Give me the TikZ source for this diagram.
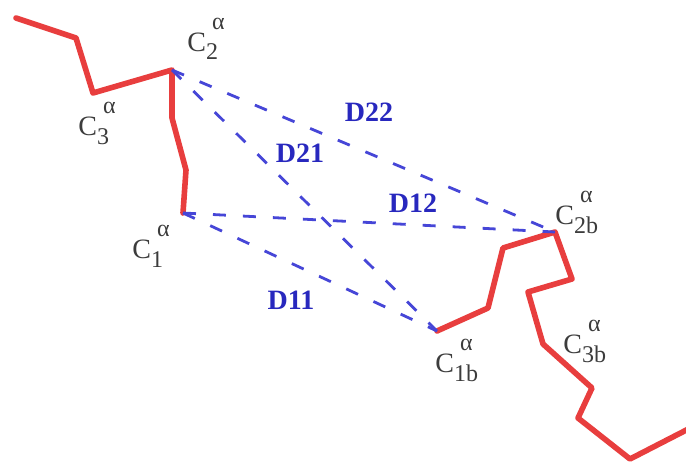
\documentclass[tikz,border=0pt]{standalone}
\usepackage{fontspec}
\setmainfont{Liberation Serif}
\usepackage{xcolor}
\usepackage{tikz}
\usetikzlibrary{positioning}
\definecolor{caRed}{RGB}{232,62,62}
\definecolor{caGray}{RGB}{60,60,60}
\definecolor{dBlue}{RGB}{70,70,215}
\definecolor{dText}{RGB}{40,40,190}
\newcommand{\calab}[1]{C\rlap{\raisebox{-4.5pt}{\fontsize{12}{12}\selectfont #1}}\raisebox{11pt}{\fontsize{12}{12}\selectfont\hspace{3pt}α}}

\begin{document}
\begin{tikzpicture}[
  x=0.5pt, y=-0.5pt,
  font=\fontsize{14}{14}\selectfont,
  chain/.style={draw=caRed, line width=2.8pt, line join=round, line cap=round},
  dd/.style={draw=dBlue, line width=1.4pt, dash pattern=on 6.5pt off 8.5pt},
  lb/.style={text=caGray, anchor=base west, inner sep=0pt},
  dl/.style={text=dText, font=\bfseries\fontsize{14}{14}\selectfont, inner sep=0pt}
]
\useasboundingbox (0,0) rectangle (686,466);
% chain a
\foreach \n/\x/\y in {a0/16/18, a1/76/38, c3/93/93, c2/172/70, a2/172/118, a3/186/170, c1/183/213}
  \coordinate (\n) at (\x,\y);
% chain b
\foreach \n/\x/\y in {c1b/437/331, b1/488/308, b2/503/248, c2b/555/232, b3/572/279, b4/528/292,
  c3b/543/344, b5/592/388, b6/578/418, b7/630/459, b8/700/423}
  \coordinate (\n) at (\x,\y);
\draw[chain] (a0) -- (a1) -- (c3) -- (c2) -- (a2) -- (a3) -- (c1);
\draw[chain] (c1b) -- (b1) -- (b2) -- (c2b) -- (b3) -- (b4) -- (c3b) -- (b5) -- (b6) -- (b7) -- (b8);
% distances
\foreach \a/\b in {c2/c2b, c2/c1b, c1/c2b, c1/c1b} \draw[dd] (\a) -- (\b);
\node[dl] (d22) at (369,112) {D22};
\node[dl] (d21) at (300,153) {D21};
\node[dl] (d12) at (413,203) {D12};
\node[dl] (d11) at (291,300) {D11};
% labels
\node[lb] (l2) at (187,51) {\calab{2}};
\node[lb] (l3) at (78,135) {\calab{3}};
\node[lb] (l1) at (132,258) {\calab{1}};
\node[lb] (l1b) at (435,372) {\calab{1b}};
\node[lb] (l2b) at (555,224) {\calab{2b}};
\node[lb] (l3b) at (563,353) {\calab{3b}};
\end{tikzpicture}
\end{document}
